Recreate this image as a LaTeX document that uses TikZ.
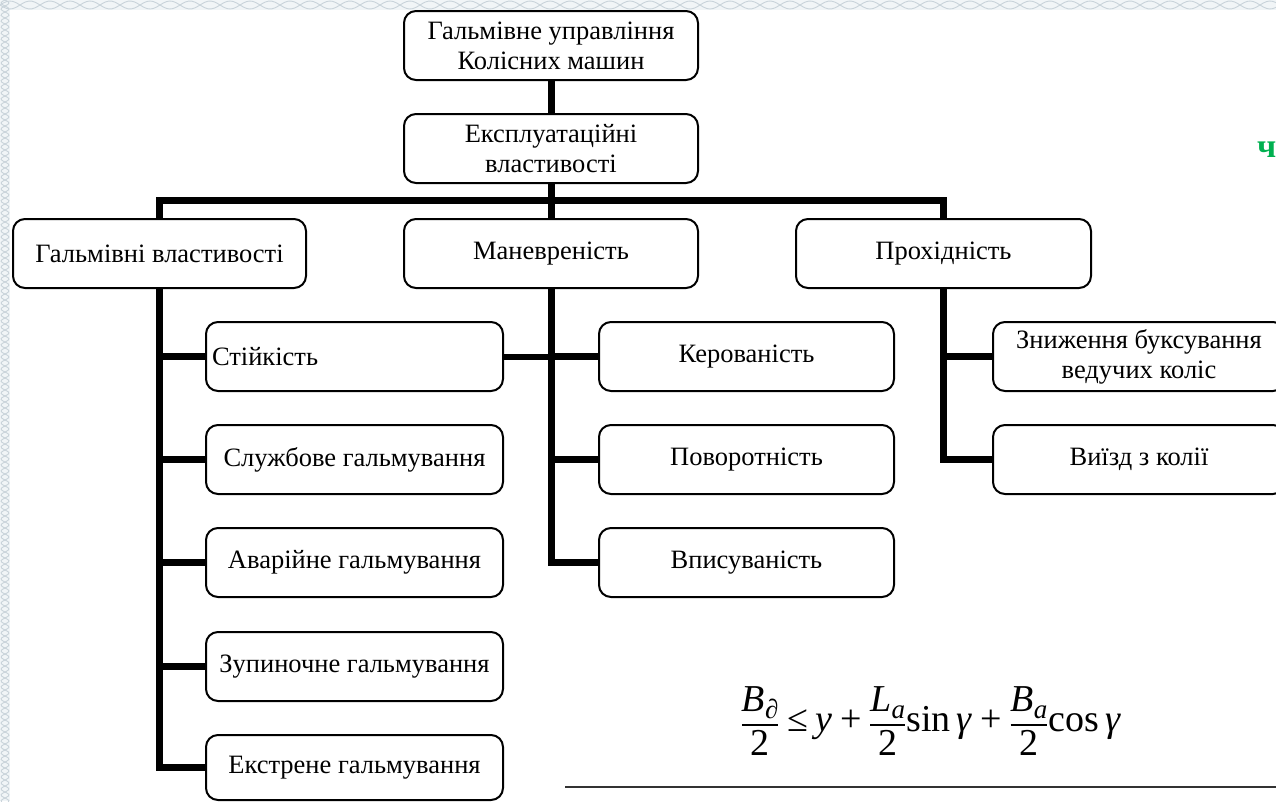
\documentclass[tikz,border=0pt]{standalone}
\usepackage{fontspec}
\setmainfont{Liberation Serif}
\definecolor{framefill}{HTML}{F1F5F7}
\definecolor{frameline}{HTML}{C9D3DA}
\definecolor{accent}{HTML}{00B050}
% display-style fraction with a visible rule, built from text-font pieces
\newcommand{\dfr}[2]{\ensuremath{\displaystyle{\hbox{#1}\above1.6pt\hbox{#2}}}}
\newcommand{\sub}[2]{\textit{#1}\raisebox{-7pt}{\fontsize{27}{27}\selectfont\textit{#2}}}
\newcommand{\gap}{\hspace{0.2em}}
\begin{document}
\begin{tikzpicture}[x=1pt,y=-1pt,
  box/.style={draw=black, line width=2pt, rounded corners=12pt, fill=white,
    minimum height=69pt, inner sep=4pt, align=center, anchor=north west,
    font=\fontsize{26.5}{30}\selectfont},
  wide/.style={minimum width=294pt},
  kid/.style={minimum width=297pt},
  conn/.style={line width=7pt, black},
  wave/.style={draw=frameline, line width=0.9pt},
]
\useasboundingbox (0,0) rectangle (1276,801);
\begin{scope}
\clip (0,0) rectangle (1276,801);

% decorative frame along the top and left edges
\fill[framefill] (0,0) rectangle (1276,10);
\fill[framefill] (0,0) rectangle (10,801);
\draw[wave] plot[domain=0:1276, samples=400] (\x, {5+4*sin(9*\x)});
\draw[wave] plot[domain=0:1276, samples=400] (\x, {5-4*sin(9*\x)});
\foreach \s in {0,120,...,720}{
  \draw[wave] plot[domain=0:120, samples=80] ({5+4*sin(30*\x)}, {\s+\x});
  \draw[wave] plot[domain=0:120, samples=80] ({5-4*sin(30*\x)}, {\s+\x});
}

% hierarchy boxes
\node[box, wide] (top) at (403,10) {Гальмівне управління\\Колісних машин};
\node[box, wide] (expl) at (403,113) {Експлуатаційні\\властивості};

\node[box, minimum width=293pt] (brake) at (12,218) {Гальмівні властивості};
\node[box, wide] (mane) at (403,218) {Маневреність};
\node[box, minimum width=295pt] (pass) at (795,218) {Прохідність};

\node[box, text width=285pt, inner xsep=6pt, align=left] (c1) at (205,321) {Стійкість};
\node[box, kid] (c2) at (205,424) {Службове гальмування};
\node[box, kid] (c3) at (205,527) {Аварійне гальмування};
\node[box, kid] (c4) at (205,631) {Зупиночне гальмування};
\node[box, kid, minimum height=65pt] (c5) at (205,734) {Екстрене гальмування};

\node[box, minimum width=295pt] (m1) at (598,321) {Керованість};
\node[box, minimum width=295pt] (m2) at (598,424) {Поворотність};
\node[box, minimum width=295pt] (m3) at (598,527) {Вписуваність};

\node[box, minimum width=292pt] (r1) at (992,321) {Зниження буксування\\ведучих коліс};
\node[box, minimum width=292pt] (r2) at (992,424) {Виїзд з колії};

% connectors
\coordinate (busy) at (0,200);
\draw[conn] (top.south) -- (expl.north);
\draw[conn] (expl.south) -- (mane.north);
\draw[conn] (brake.north) -- (brake.north |- busy) -- (pass.north |- busy) -- (pass.north);

\draw[conn] (brake.south) |- (c5.west);
\draw[conn] (brake.south |- c1.west) -- (c1.west);
\draw[conn] (brake.south |- c2.west) -- (c2.west);
\draw[conn] (brake.south |- c3.west) -- (c3.west);
\draw[conn] (brake.south |- c4.west) -- (c4.west);

\draw[conn] (mane.south) |- (m3.west);
\draw[conn] (mane.south |- m1.west) -- (m1.west);
\draw[conn] (mane.south |- m2.west) -- (m2.west);
\draw[line width=6pt] (c1.east) -- (mane.south |- c1.east);

\draw[conn] (pass.south) |- (r2.west);
\draw[conn] (pass.south |- r1.west) -- (r1.west);

% formula and rule beneath it
\node[anchor=base, font=\fontsize{38}{44}\selectfont] (formula) at (931,731)
  {\dfr{\sub{B}{∂}}{2}\gap≤\gap\textit{y}\gap+\gap\dfr{\sub{L}{a}}{2}sin\,\textit{γ}\gap+\gap\dfr{\sub{B}{a}}{2}cos\,\textit{γ}};
\coordinate (ruleL) at (565,787);
\coordinate (ruleR) at (1276,787);
\draw[line width=2pt, black!80] (ruleL) -- (ruleR);

% fragment of a green heading at the right edge
\node[anchor=base west, inner sep=0pt, text=accent, font=\fontsize{34}{34}\selectfont\bfseries] (cut) at (1257,157) {ч};
\end{scope}
\end{tikzpicture}
\end{document}
